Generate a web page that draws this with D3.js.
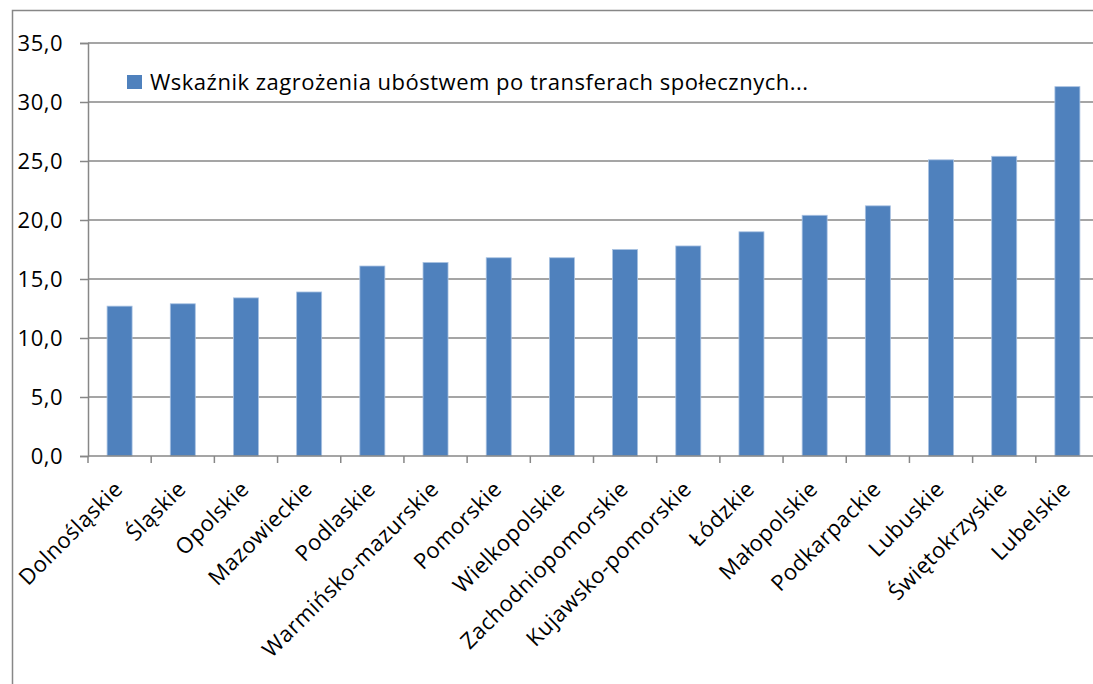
<!doctype html>
<html>
<head>
<meta charset="utf-8">
<style>
  body { margin: 0; background: #fff; }
  text { font-family: "Open Sans", "Noto Sans", sans-serif; fill: #000; }
</style>
</head>
<body>
    <div class="container"></div>

	<script src="https://d3js.org/d3.v7.min.js"></script>

    <script>
        const regions = ['Dolnośląskie', 'Śląskie', 'Opolskie', 'Mazowieckie', 'Podlaskie',
            'Warmińsko-mazurskie', 'Pomorskie', 'Wielkopolskie', 'Zachodniopomorskie',
            'Kujawsko-pomorskie', 'Łódzkie', 'Małopolskie', 'Podkarpackie', 'Lubuskie',
            'Świętokrzyskie', 'Lubelskie']
        const values = [12.7, 12.9, 13.4, 13.9, 16.1, 16.4, 16.8, 16.8, 17.5, 17.8,
            19.0, 20.4, 21.2, 25.1, 25.4, 31.3]
        const yTicks = [0, 5, 10, 15, 20, 25, 30, 35]
        const seriesName = 'Wskaźnik zagrożenia ubóstwem po transferach społecznych...'

        const width = 1093, height = 684
        const svg = d3.select('.container').append('svg')
            .attr('width', width).attr('height', height)

        // outer chart frame
        svg.append('rect')
            .attr('x', 12.5).attr('y', 10.5)
            .attr('width', 1120).attr('height', 700)
            .attr('fill', 'none').attr('stroke', '#878787').attr('stroke-width', 1.5)

        const xc = d3.scaleBand().domain(regions).range([88, 1099])
        const y = d3.scaleLinear().domain([0, 35]).range([456, 43])

        // gridlines
        svg.append('g').selectAll('line').data(yTicks.slice(1)).enter().append('line')
            .attr('x1', 88).attr('x2', width)
            .attr('y1', d => y(d)).attr('y2', d => y(d))
            .attr('stroke', '#878787').attr('stroke-width', 1.5)

        // bars
        svg.append('g').selectAll('rect').data(values).enter().append('rect')
            .attr('x', (d, i) => xc(regions[i]) + xc.bandwidth() / 2 - 12.5)
            .attr('y', d => y(d))
            .attr('width', 25)
            .attr('height', d => y(0) - y(d))
            .attr('fill', '#4f81bd')
            .attr('stroke', '#a9c2e2').attr('stroke-width', 0.8)

        // y axis
        const yAxis = svg.append('g').attr('transform', 'translate(88,0)')
            .call(d3.axisLeft(y).tickValues(yTicks).tickSize(8)
                .tickFormat(d => d3.format('.1f')(d).replace('.', ',')))
        yAxis.select('.domain').attr('stroke', '#878787').attr('stroke-width', 1.5)
        yAxis.selectAll('.tick line').attr('stroke', '#878787').attr('stroke-width', 1.5)
        yAxis.selectAll('.tick text')
            .attr('x', -25).attr('dy', '0.35em')
            .style('font-size', '22px').style('letter-spacing', '0.5px')
            .style('font-family', '"Open Sans", sans-serif').attr('fill', '#000')

        // x axis
        const xAxis = svg.append('g').attr('transform', 'translate(0,456)')
        xAxis.append('line').attr('x1', 88).attr('x2', width).attr('y1', 0).attr('y2', 0)
            .attr('stroke', '#878787').attr('stroke-width', 1.5)
        xAxis.selectAll('line.tk').data(regions.concat(['end'])).enter().append('line')
            .attr('class', 'tk')
            .attr('x1', (d, i) => 88 + i * xc.step()).attr('x2', (d, i) => 88 + i * xc.step())
            .attr('y1', 0).attr('y2', 7)
            .attr('stroke', '#878787').attr('stroke-width', 1.5)
        xAxis.selectAll('text').data(regions).enter().append('text')
            .attr('transform', d => `translate(${xc(d) + xc.bandwidth() / 2 - 1},${29}) rotate(-45)`)
            .attr('text-anchor', 'end')
            .attr('dy', '0.35em')
            .style('font-size', '22px').style('letter-spacing', '0.5px')
            .text(d => d)

        // legend
        const legend = svg.append('g').attr('transform', 'translate(127,75)')
        legend.append('rect').attr('width', 15).attr('height', 14).attr('fill', '#4f81bd')
        legend.append('text').attr('x', 23).attr('y', 15)
            .style('font-size', '22px').style('letter-spacing', '0.5px')
            .text(seriesName)
    </script>
</body>
</html>
